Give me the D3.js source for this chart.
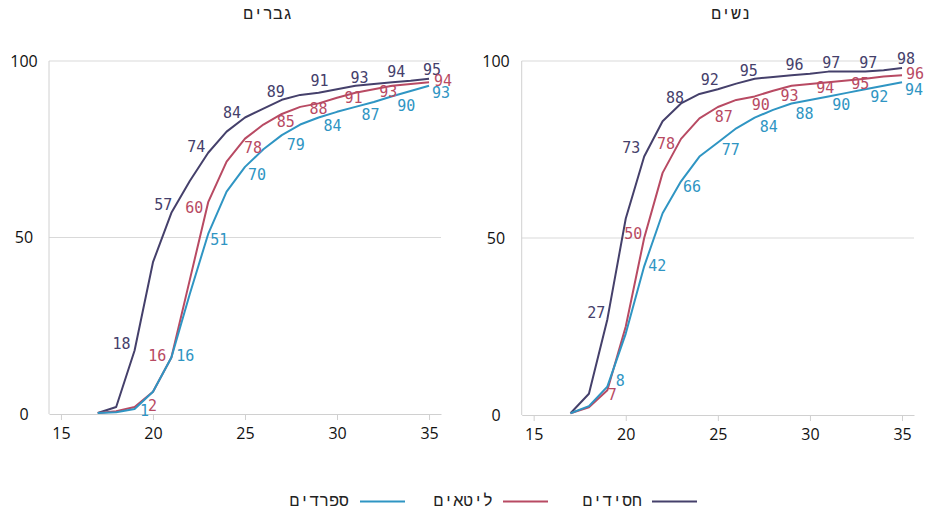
<!DOCTYPE html>
<html>
<head>
<meta charset="utf-8">
<script src="https://cdn.jsdelivr.net/npm/d3@7"></script>
<style>
  html, body { margin: 0; padding: 0; background: #fff; }
  svg { display: block; }
</style>
</head>
<body>
<svg id="chart" width="929" height="511"></svg>
<script>
// ---------- DATA ----------
const ages = [17,18,19,20,21,22,23,24,25,26,27,28,29,30,31,32,33,34,35];
const labelAges = [19,21,23,25,27,29,31,33,35];
const seriesNames = ["חסידים", "ליטאים", "ספרדים"];
const panelTitles = ["גברים", "נשים"];
const xTicks = [15, 20, 25, 30, 35];
const yTicks = [0, 50, 100];

// Men (גברים)
const menHasidim  = [0.3, 2, 18, 43, 57, 66, 74, 80, 84, 86.5, 89, 90.4, 91, 92, 93, 93.5, 94, 94.4, 95];
const menLitaim   = [0.3, 0.8, 2, 6.3, 16, 38, 60, 71.5, 78, 82, 85, 87, 88, 89.6, 91, 92, 93, 93.5, 94];
const menSfaradim = [0.3, 0.5, 1.4, 6.3, 16, 34, 51, 63, 70, 75, 79, 82, 84, 85.6, 87, 88.4, 90, 91.5, 93];
// Women (נשים)
const womenHasidim  = [0.5, 6, 27, 55.5, 73, 83, 88, 90.7, 92, 93.6, 95, 95.5, 96, 96.4, 97, 97, 97, 97.4, 98];
const womenLitaim   = [0.5, 2.2, 7, 25, 50, 68.4, 78, 83.8, 87, 89, 90, 91.6, 93, 93.5, 94, 94.5, 95, 95.6, 96];
const womenSfaradim = [0.5, 2.5, 8, 23, 42, 57, 66, 73, 77, 81, 84, 86.2, 88, 89, 90, 91, 92, 93, 94];

// ---------- STYLE / LAYOUT ----------
const colors = ["#45406b", "#b84a63", "#2f95c3"];
const labelFont = "'DejaVu Sans Mono', 'Liberation Mono', monospace";
const axisFont = "'Open Sans', 'Noto Sans', sans-serif";

// label offsets (px) relative to each labelled point, per panel, per series
const labelOffsets = [
  [ // men
    [[-13,-7],[-8,-8],[-12,-6],[-13,-5],[-6,-8],[1,-12],[4,-8],[4,-10],[3,-9]],
    [[18,-1],[-14,-2],[-14,6],[8,9],[4,8],[0,5],[-2,5],[-4,6],[14,-1]],
    [[10,2],[14,-2],[11,6],[12,8],[14,10],[14,8],[15,8],[14,9],[12,7]]
  ],
  [ // women
    [[-11,-7],[-13,-9],[-6,-6],[-8,-10],[-6,-8],[3,-10],[3,-9],[3,-9],[4,-9]],
    [[5,5],[-11,-4],[-15,5],[6,10],[6,8],[-2,10],[-3,6],[-5,5],[13,-1]],
    [[13,-6],[13,-1],[11,5],[13,7],[14,9],[13,10],[13,8],[14,7],[12,8]]
  ]
];

const panels = [
  { title: panelTitles[0], titleX: 268, x0: 49, x1: 441, y0: 414, y1: 61, yLabelX: 24,
    data: [menHasidim, menLitaim, menSfaradim] },
  { title: panelTitles[1], titleX: 731, x0: 521.7, x1: 914, y0: 415, y1: 61, yLabelX: 496,
    data: [womenHasidim, womenLitaim, womenSfaradim] }
];

const svg = d3.select("#chart");

panels.forEach((p, pi) => {
  const x = d3.scaleLinear().domain([14.35, 35.65]).range([p.x0, p.x1]);
  const y = d3.scaleLinear().domain([0, 100]).range([p.y0, p.y1]);
  const g = svg.append("g");

  // title
  g.append("text")
    .attr("x", p.titleX).attr("y", 13)
    .attr("dy", "0.35em")
    .attr("text-anchor", "middle")
    .attr("font-family", labelFont)
    .attr("font-size", 16.5)
    .attr("fill", "#222")
    .text(p.title);

  // gridlines (50, 100)
  g.selectAll("line.grid").data(yTicks.filter(d => d > 0)).enter()
    .append("line")
    .attr("x1", p.x0).attr("x2", p.x1)
    .attr("y1", d => y(d)).attr("y2", d => y(d))
    .attr("stroke", "#d9d9d9").attr("stroke-width", 1);

  // y labels
  g.selectAll("text.ylab").data(yTicks).enter()
    .append("text")
    .attr("x", p.yLabelX).attr("y", d => y(d))
    .attr("dy", "0.35em")
    .attr("text-anchor", "middle")
    .attr("font-family", axisFont)
    .attr("font-size", 16)
    .attr("fill", "#111")
    .text(d => d);

  // left axis line
  g.append("line")
    .attr("x1", p.x0).attr("x2", p.x0)
    .attr("y1", y(100)).attr("y2", y(0))
    .attr("stroke", "#d0d0d0").attr("stroke-width", 1);

  // x axis
  const xAxis = d3.axisBottom(x).tickValues(xTicks).tickSize(6).tickPadding(8).tickSizeOuter(0);
  const ax = g.append("g").attr("transform", `translate(0,${p.y0})`).call(xAxis);
  ax.select(".domain").attr("stroke", "#d0d0d0");
  ax.selectAll(".tick line").attr("stroke", "#d0d0d0");
  ax.selectAll(".tick text")
    .attr("font-family", axisFont)
    .attr("font-size", 16)
    .attr("fill", "#111");

  // lines
  const line = d3.line().x((d, i) => x(ages[i])).y(d => y(d));
  p.data.forEach((vals, si) => {
    g.append("path")
      .datum(vals)
      .attr("d", line)
      .attr("fill", "none")
      .attr("stroke", colors[si])
      .attr("stroke-width", 2)
      .attr("stroke-linejoin", "round");
  });

  // labels
  p.data.forEach((vals, si) => {
    labelAges.forEach((a, li) => {
      const idx = ages.indexOf(a);
      const off = labelOffsets[pi][si][li];
      g.append("text")
        .attr("x", x(a) + off[0])
        .attr("y", y(vals[idx]) + off[1])
        .attr("dy", "0.35em")
        .attr("text-anchor", "middle")
        .attr("font-family", labelFont)
        .attr("font-size", 15)
        .attr("fill", colors[si])
        .text(Math.round(vals[idx]));
    });
  });
});

// legend (RTL: text to the left of line)
const legendItems = [
  { name: seriesNames[0], color: colors[0], lineX: 652, textRight: 642 },
  { name: seriesNames[1], color: colors[1], lineX: 503, textRight: 493 },
  { name: seriesNames[2], color: colors[2], lineX: 360, textRight: 349 }
];
const lg = svg.append("g");
legendItems.forEach(it => {
  lg.append("line")
    .attr("x1", it.lineX).attr("x2", it.lineX + 45)
    .attr("y1", 501.5).attr("y2", 501.5)
    .attr("stroke", it.color).attr("stroke-width", 2);
  lg.append("text")
    .attr("x", it.textRight).attr("y", 500)
    .attr("dy", "0.35em")
    .attr("text-anchor", "end")
    .attr("font-family", labelFont)
    .attr("font-size", 16.5)
    .attr("fill", "#222")
    .text(it.name);
});
</script>
</body>
</html>
